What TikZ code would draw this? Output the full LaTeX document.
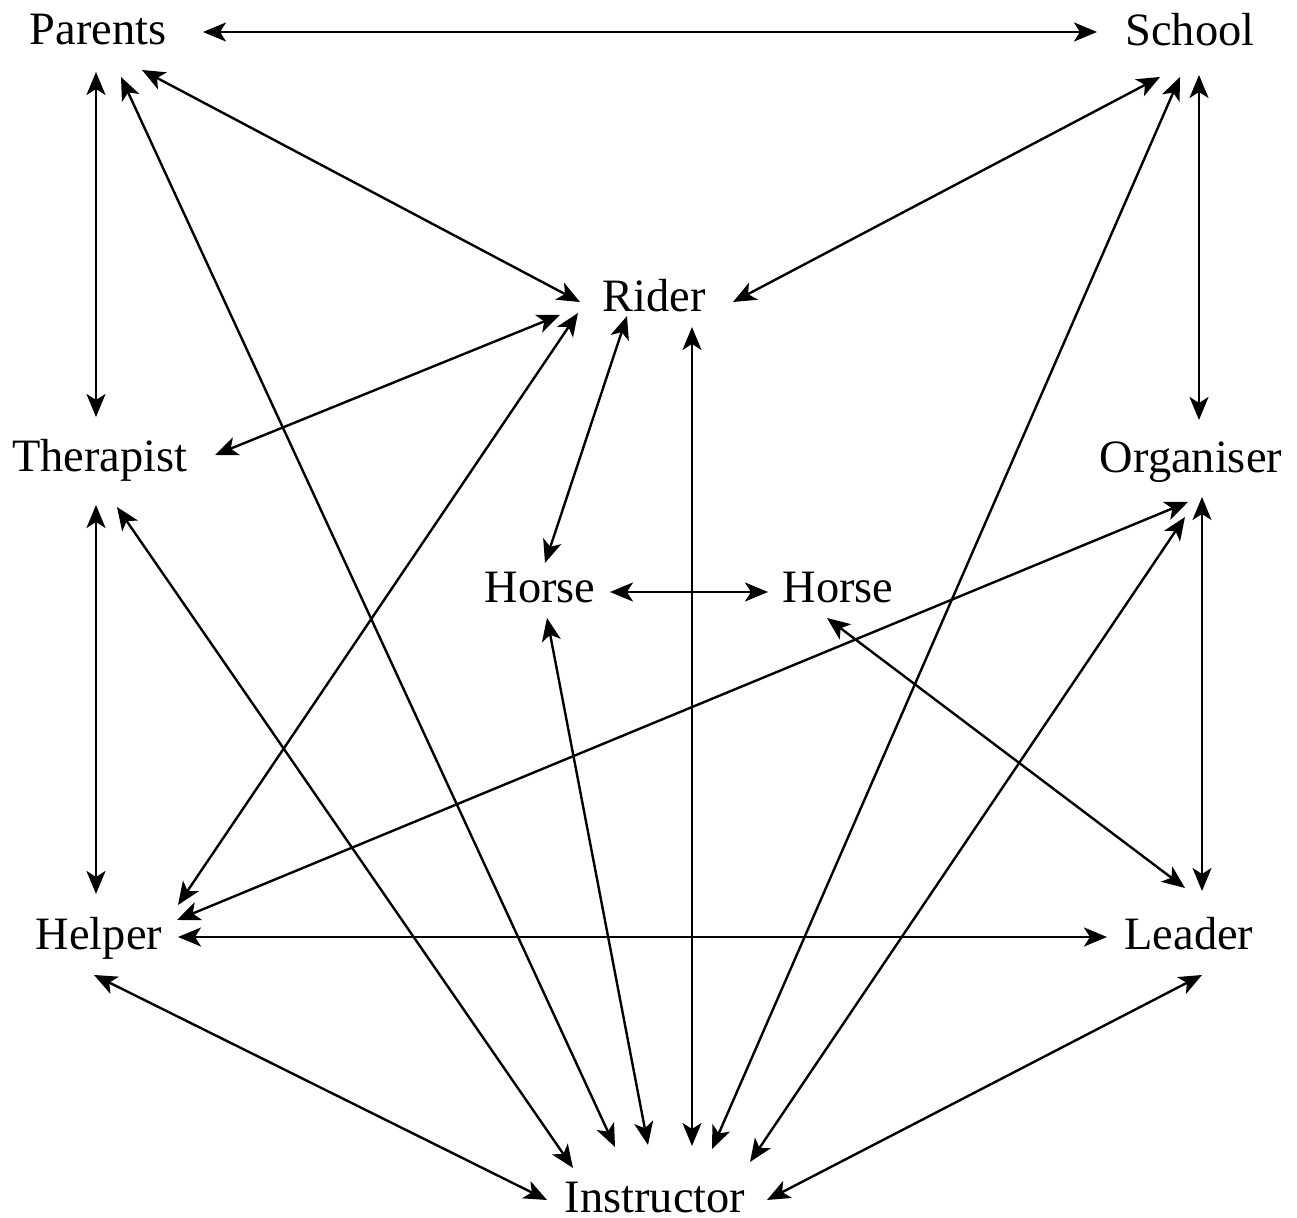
\documentclass[tikz,border=0pt]{standalone}
\usepackage{fontspec}
\setmainfont{Liberation Serif}
\usetikzlibrary{arrows.meta}
\begin{document}
\begin{tikzpicture}[x=0.5pt,y=-0.5pt,
  lbl/.style={anchor=base,inner sep=0pt,font=\fontsize{23.2pt}{27pt}\selectfont},
  tip/.style={Stealth[length=11.5pt,width=9.5pt,inset=3pt]},
  link/.style={line width=1.2pt,{Stealth[length=11.5pt,width=9.5pt,inset=3pt]}-{Stealth[length=11.5pt,width=9.5pt,inset=3pt]}}]
\useasboundingbox (0,0) rectangle (1297,1218);
\node[lbl] (P) at (98,45) {Parents};
\node[lbl] (S) at (1190,46) {School};
\node[lbl] (R) at (654,312) {Rider};
\node[lbl] (T) at (100,472) {Therapist};
\node[lbl] (O) at (1191,473) {Organiser};
\node[lbl] (H1) at (540,603) {Horse};
\node[lbl] (H2) at (838,603) {Horse};
\node[lbl] (He) at (99,950) {Helper};
\node[lbl] (L) at (1189,950) {Leader};
\node[lbl] (I) at (655,1212) {Instructor};
% edges
\draw[link] ([shift={(105,-13)}]P.base) -- ([shift={(-93,-14)}]S.base);
\draw[link] ([shift={(-2,27)}]P.base) -- ([shift={(-4,-55)}]T.base);
\draw[link] ([shift={(44,25)}]P.base) -- ([shift={(-74,-10)}]R.base);
\draw[link] ([shift={(23,32)}]P.base) -- ([shift={(-40,-65)}]I.base);
\draw[link] ([shift={(-30,31)}]S.base) -- ([shift={(79,-10)}]R.base);
\draw[link] ([shift={(9,29)}]S.base) -- ([shift={(8,-53)}]O.base);
\draw[link] ([shift={(-10,31)}]S.base) -- ([shift={(57,-63)}]I.base);
\draw[link] ([shift={(-94,3)}]R.base) -- ([shift={(115,-17)}]T.base);
\draw[link] ([shift={(-76,1)}]R.base) -- ([shift={(79,-45)}]He.base);
\draw[link] ([shift={(-27,4)}]R.base) -- ([shift={(5,-40)}]H1.base);
\draw[link] ([shift={(38,15)}]R.base) -- ([shift={(37,-66)}]I.base);
\draw[link] ([shift={(70,-11)}]H1.base) -- ([shift={(-70,-11)}]H2.base);
\draw[link] ([shift={(7,15)}]H1.base) -- ([shift={(-7,-67)}]I.base);
\draw[link] ([shift={(-11,15)}]H2.base) -- ([shift={(-4,-62)}]L.base);
\draw[link] ([shift={(-4,33)}]T.base) -- ([shift={(-3,-56)}]He.base);
\draw[link] ([shift={(17,35)}]T.base) -- ([shift={(-82,-44)}]I.base);
\draw[link] ([shift={(-3,29)}]O.base) -- ([shift={(78,-30)}]He.base);
\draw[link] ([shift={(11,24)}]O.base) -- ([shift={(13,-59)}]L.base);
\draw[link] ([shift={(-6,44)}]O.base) -- ([shift={(95,-50)}]I.base);
\draw[link] ([shift={(79,-13)}]He.base) -- ([shift={(-82,-13)}]L.base);
\draw[link] ([shift={(-5,25)}]He.base) -- ([shift={(-108,-12)}]I.base);
\draw[link] ([shift={(13,25)}]L.base) -- ([shift={(112,-12)}]I.base);
\end{tikzpicture}
\end{document}
